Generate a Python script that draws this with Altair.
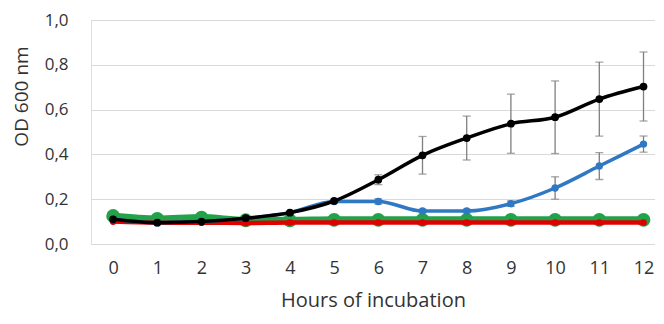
import altair as alt
import pandas as pd

hours = list(range(13))
black = [0.110, 0.095, 0.100, 0.115, 0.140, 0.192, 0.287, 0.396, 0.473, 0.537, 0.566, 0.647, 0.703]
black_err = [0.0, 0.0, 0.0, 0.0, 0.004, 0.008, 0.022, 0.084, 0.098, 0.132, 0.162, 0.165, 0.154]
blue = [0.110, 0.095, 0.100, 0.115, 0.140, 0.190, 0.190, 0.147, 0.147, 0.180, 0.250, 0.348, 0.446]
blue_err = [0.0, 0.0, 0.0, 0.0, 0.0, 0.004, 0.012, 0.008, 0.008, 0.012, 0.050, 0.060, 0.036]
green = [0.125, 0.112, 0.118, 0.106, 0.106, 0.108, 0.108, 0.108, 0.108, 0.108, 0.108, 0.108, 0.108]
red = [0.100, 0.095, 0.095, 0.094, 0.096, 0.096, 0.096, 0.096, 0.096, 0.096, 0.096, 0.096, 0.096]

FONT = "Open Sans"
TXT = "#333333"

def frame(vals, errs=None):
    d = pd.DataFrame({"h": hours, "v": vals})
    if errs is not None:
        d["lo"] = [v - e for v, e in zip(vals, errs)]
        d["hi"] = [v + e for v, e in zip(vals, errs)]
    return d

xs = alt.Scale(domain=[-0.5, 12.26], nice=False, zero=False)
ys = alt.Scale(domain=[0, 1], nice=False)

X = alt.X("h:Q", scale=xs, axis=alt.Axis(
    values=hours, format="d", grid=False, domain=False, ticks=False, tickSize=0,
    labelPadding=15, labelFontSize=18, labelFont=FONT, labelColor=TXT,
    title="Hours of incubation", titleFont=FONT, titleFontSize=20, titleFontWeight="normal",
    titleColor=TXT, titleBaseline="middle", titleY=56))
Y = alt.Y("v:Q", scale=ys, axis=alt.Axis(
    values=[0, 0.2, 0.4, 0.6, 0.8, 1.0], domain=False, ticks=False, tickSize=0,
    labelExpr="replace(format(datum.value, '.1f'), '.', ',')",
    labelPadding=23, labelFontSize=17, labelFont=FONT, labelColor=TXT,
    gridColor="#d9d9d9", gridWidth=1.2,
    title="OD 600 nm", titleFont=FONT, titleFontSize=19, titleFontWeight="normal",
    titleColor=TXT, titleAngle=270, titleAlign="center", titleBaseline="middle",
    titleX=-70, titleY=76))

def line(d, color, width, size):
    base = alt.Chart(d)
    l = base.mark_line(color=color, strokeWidth=width, interpolate="monotone").encode(x=X, y=Y)
    p = base.mark_point(filled=True, color=color, size=size, opacity=1).encode(
        x=alt.X("h:Q", scale=xs), y=alt.Y("v:Q", scale=ys))
    return l + p

def errs(d):
    d = d[d["hi"] - d["lo"] > 0.001]
    base = alt.Chart(d)
    r = base.mark_rule(color="#7f7f7f", strokeWidth=1.3).encode(
        x=alt.X("h:Q", scale=xs), y=alt.Y("lo:Q", scale=ys), y2="hi:Q")
    t1 = base.mark_tick(color="#7f7f7f", orient="horizontal", size=8, thickness=1.3).encode(
        x=alt.X("h:Q", scale=xs), y=alt.Y("lo:Q", scale=ys))
    t2 = base.mark_tick(color="#7f7f7f", orient="horizontal", size=8, thickness=1.3).encode(
        x=alt.X("h:Q", scale=xs), y=alt.Y("hi:Q", scale=ys))
    return r + t1 + t2

chart = alt.layer(
    line(frame(green), "#22a34a", 7, 190),
    line(frame(red), "#e00000", 4.5, 45),
    errs(frame(blue, blue_err)),
    errs(frame(black, black_err)),
    line(frame(blue), "#2e78c4", 3.5, 55),
    line(frame(black), "#000000", 3.5, 60),
).properties(
    width=564, height=224,
    autosize=alt.AutoSizeParams(type="none"),
    padding={"left": 83, "top": 12, "right": 0, "bottom": 72},
).configure_view(stroke=None).configure(background="white")

chart.save("out.html", embed_options={"renderer": "svg", "actions": False})
